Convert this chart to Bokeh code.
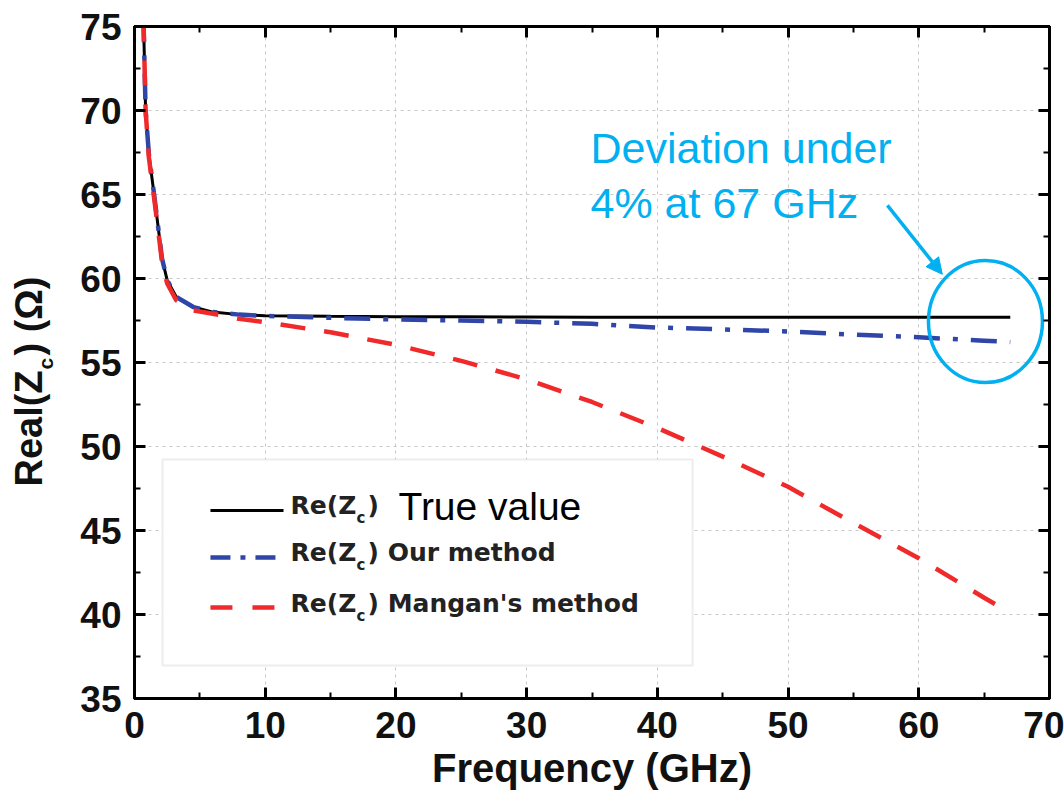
import math
from bokeh.plotting import figure
from bokeh.layouts import row
from bokeh.models import (LinearAxis, SingleIntervalTicker, Label, Arrow,
                          NormalHead, BoxAnnotation, Range1d)
from bokeh.embed import file_html
from bokeh.resources import INLINE

# ---------------- data ----------------
freq_ghz = [0.68, 0.85, 1.1, 1.5, 1.9, 2.1, 2.5, 3.2, 4.5, 6.0, 8.0, 10, 15, 20,
            25, 30, 35, 40, 45, 50, 55, 60, 65, 67]
re_true = [75.6, 70.0, 67.4, 65.0, 62.5, 61.2, 59.9, 58.9, 58.3, 58.0, 57.85,
           57.78, 57.75, 57.73, 57.72, 57.71, 57.7, 57.7, 57.7, 57.7, 57.7,
           57.7, 57.7, 57.7]
re_ours = [75.6, 70.0, 67.4, 65.0, 62.5, 61.2, 59.9, 58.9, 58.3, 58.0, 57.85,
           57.77, 57.66, 57.56, 57.5, 57.42, 57.3, 57.08, 56.97, 56.85, 56.66,
           56.5, 56.3, 56.22]
re_mangan = [75.6, 70.0, 67.2, 64.8, 62.3, 61.0, 59.7, 58.7, 58.1, 57.9, 57.6,
             57.4, 56.8, 56.05, 55.1, 54.0, 52.65, 51.1, 49.4, 47.6, 45.45,
             43.35, 41.0, 40.1]

x_tick_interval = 10
y_tick_interval = 5

# ---------------- styling ----------------
BLACK = "#000000"
BLUE = "#2f45a8"
RED = "#f02a2a"
CYAN = "#00b0f0"
TICK_FONT = "Liberation Sans"
LEG_FONT = "DejaVu Sans"
TOTAL_H = 805
YLAB_W = 60

p = figure(width=1004, height=TOTAL_H,
           x_range=(0, 70), y_range=(35, 75),
           min_border_left=74, min_border_right=15,
           min_border_top=26, min_border_bottom=107,
           output_backend="svg", toolbar_location=None,
           background_fill_color="white", border_fill_color="white")

p.outline_line_color = BLACK
p.outline_line_width = 3

xt = SingleIntervalTicker(interval=x_tick_interval, num_minor_ticks=2)
yt = SingleIntervalTicker(interval=y_tick_interval, num_minor_ticks=2)


def style_axis(ax, ticker, show_labels, standoff):
    ax.ticker = ticker
    ax.axis_line_color = BLACK
    ax.axis_line_width = 3
    ax.major_tick_in = 11
    ax.major_tick_out = 0
    ax.minor_tick_in = 6
    ax.minor_tick_out = 0
    ax.major_tick_line_width = 3
    ax.minor_tick_line_width = 2
    ax.major_tick_line_color = BLACK
    ax.minor_tick_line_color = BLACK
    if show_labels:
        ax.major_label_text_font = TICK_FONT
        ax.major_label_text_font_style = "bold"
        ax.major_label_text_font_size = "37px"
        ax.major_label_text_color = "#111111"
        ax.major_label_standoff = standoff
    else:
        ax.major_label_text_font_size = "1px"
        ax.major_label_text_color = None
        ax.major_label_text_alpha = 0
        ax.major_label_standoff = 0


style_axis(p.xaxis[0], xt, True, 13)
style_axis(p.yaxis[0], yt, True, 13)
p.xaxis[0].axis_label = "Frequency (GHz)"
p.xaxis[0].axis_label_text_font = TICK_FONT
p.xaxis[0].axis_label_text_font_style = "bold"
p.xaxis[0].axis_label_text_font_size = "40px"
p.xaxis[0].axis_label_text_color = "#111111"
p.xaxis[0].axis_label_standoff = 5

top = LinearAxis()
right = LinearAxis()
style_axis(top, xt, False, 0)
style_axis(right, yt, False, 0)
p.add_layout(top, "above")
p.add_layout(right, "right")

p.xgrid.ticker = xt
p.ygrid.ticker = yt
for g in (p.xgrid, p.ygrid):
    g.grid_line_color = "#c8c8c8"
    g.grid_line_dash = "3 4"
    g.grid_line_width = 1

# ---------------- curves ----------------
p.line(freq_ghz, re_true, line_color=BLACK, line_width=3)
p.line(freq_ghz, re_ours, line_color=BLUE, line_width=4.5,
       line_dash="26 13 5 13")
p.line(freq_ghz, re_mangan, line_color=RED, line_width=4.5,
       line_dash="25 19")

# ---------------- legend (manual, for the subscripts) ----------------
legend_box = BoxAnnotation(left=2.14, right=42.7, top=49.23, bottom=36.96,
                           fill_color="white", fill_alpha=1.0,
                           line_color="#c4c4c4", line_width=2)
p.add_layout(legend_box)

rows = [
    (46.19, BLACK, 3, "solid", 179),
    (43.39, BLUE, 4.5, "20 10 5 10", 132),
    (40.42, RED, 4.5, "22 20", 81),
]
row_texts = [")", ") Our method", ") Mangan's method"]
for (yy, col, lw, dash, base), rest in zip(rows, row_texts):
    p.add_layout(Arrow(end=None, x_start=5.81, y_start=yy, x_end=11.4,
                       y_end=yy, line_color=col, line_width=lw,
                       line_dash=dash))
    p.add_layout(Label(x=156, y=base, x_units="screen", y_units="screen",
                       text="Re(Z", text_font=LEG_FONT,
                       text_font_style="bold", text_font_size="25px",
                       text_color="#222222"))
    p.add_layout(Label(x=222, y=base - 7, x_units="screen",
                       y_units="screen", text="c", text_font=LEG_FONT,
                       text_font_style="bold", text_font_size="15px",
                       text_color="#222222"))
    p.add_layout(Label(x=233, y=base, x_units="screen", y_units="screen",
                       text=rest, text_font=LEG_FONT,
                       text_font_style="bold", text_font_size="25px",
                       text_color="#222222"))

p.add_layout(Label(x=264, y=171, x_units="screen", y_units="screen",
                   text="True value", text_font="Liberation Sans",
                   text_font_size="39px", text_color=BLACK))

# ---------------- annotation ----------------
p.add_layout(Label(x=456, y=527, x_units="screen", y_units="screen",
                   text="Deviation under", text_font="Liberation Sans",
                   text_font_size="43px", text_color=CYAN))
p.add_layout(Label(x=456, y=472, x_units="screen", y_units="screen",
                   text="4% at 67 GHz", text_font="Liberation Sans",
                   text_font_size="43px", text_color=CYAN))
p.add_layout(Arrow(end=NormalHead(size=16, fill_color=CYAN,
                                  line_color=CYAN),
                   x_start=57.6, y_start=64.35, x_end=61.8, y_end=60.25,
                   line_color=CYAN, line_width=3.5))
p.ellipse(x=[65.1], y=[57.44], width=[114], height=[122],
          width_units="screen", height_units="screen",
          fill_alpha=0, line_color=CYAN, line_width=3.5)

# ---------------- y-axis title (own strip, for the subscript) ----------------
q = figure(title=None, frame_width=YLAB_W, frame_height=TOTAL_H,
           x_range=Range1d(0, YLAB_W), y_range=Range1d(0, TOTAL_H),
           min_border=0, min_border_left=0, min_border_right=0,
           min_border_top=0, min_border_bottom=0,
           x_axis_type=None, y_axis_type=None,
           output_backend="svg", toolbar_location=None,
           background_fill_color="white", border_fill_color="white")
q.outline_line_color = None
q.grid.visible = False

ang = math.pi / 2
YL_BASE = 49
YL_START = 460          # pixel row where "Real(Z" begins (from the top)
q.add_layout(Label(x=YL_BASE, y=TOTAL_H - YL_START, angle=ang,
                   text="Real(Z", text_font=TICK_FONT,
                   text_font_style="bold", text_font_size="38px",
                   text_color="#111111"))
q.add_layout(Label(x=YL_BASE + 7, y=TOTAL_H - YL_START + 117, angle=ang,
                   text="c", text_font=TICK_FONT, text_font_style="bold",
                   text_font_size="21px", text_color="#111111"))
q.add_layout(Label(x=YL_BASE, y=TOTAL_H - YL_START + 131, angle=ang,
                   text=") (\u03a9)", text_font=TICK_FONT,
                   text_font_style="bold", text_font_size="38px",
                   text_color="#111111"))

layout = row(q, p, spacing=0)
open("out.html", "w").write(file_html(layout, INLINE))
